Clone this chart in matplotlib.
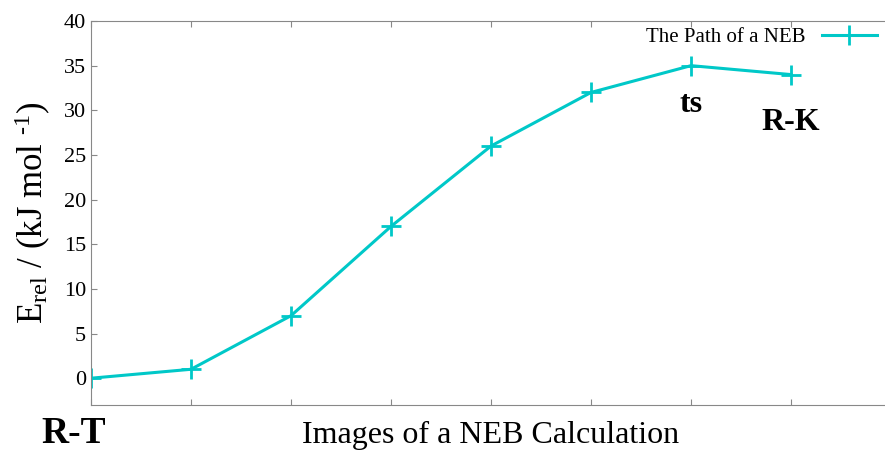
import matplotlib.pyplot as plt

images = [0, 1, 2, 3, 4, 5, 6, 7]
energy = [0, 1, 7, 17, 26, 32, 35, 34]
yticks = [0, 5, 10, 15, 20, 25, 30, 35, 40]

plt.rcParams['font.family'] = ['Liberation Serif', 'DejaVu Serif']
plt.rcParams['mathtext.fontset'] = 'custom'
plt.rcParams['mathtext.rm'] = 'Liberation Serif'
plt.rcParams['mathtext.it'] = 'Liberation Serif:italic'
plt.rcParams['mathtext.bf'] = 'Liberation Serif:bold'

fig = plt.figure(figsize=(8.85, 4.55), dpi=100)
ax = fig.add_axes([91 / 885, 50 / 455, 800 / 885, 384 / 455])

color = '#00c8c8'
ax.plot(images, energy, color=color, lw=2.2, marker='+', ms=14, mew=2,
        label='The Path of a NEB')

ax.set_xlim(0, 8.0)
ax.set_ylim(-3, 40)
ax.set_xticks(images)
ax.set_xticklabels([])
ax.set_yticks(yticks)
ax.tick_params(axis='y', labelsize=16, direction='in', length=4, color='#888888')
ax.tick_params(axis='x', direction='in', length=4, color='#888888', top=True)
for s in ['left', 'bottom', 'top']:
    ax.spines[s].set_color('#888888')
ax.spines['right'].set_visible(False)

ax.set_xlabel('Images of a NEB Calculation', fontsize=23, labelpad=8)
ax.set_ylabel(r'E$_{\rm rel}$ / (kJ mol $^{\text{-1}}$)', fontsize=25, labelpad=8)

ax.text(-0.5, -6.2, 'R-T', fontsize=27, fontweight='bold', ha='left', va='center')
ax.text(6, 30.6, 'ts', fontsize=23, fontweight='bold', ha='center', va='center')
ax.text(7, 28.6, 'R-K', fontsize=23, fontweight='bold', ha='center', va='center')

ax.legend(loc='upper right', bbox_to_anchor=(0.995, 1.01), frameon=False, fontsize=15,
          markerfirst=False, handlelength=2.6, borderaxespad=0.1)

fig.savefig('out.png', dpi=100)
